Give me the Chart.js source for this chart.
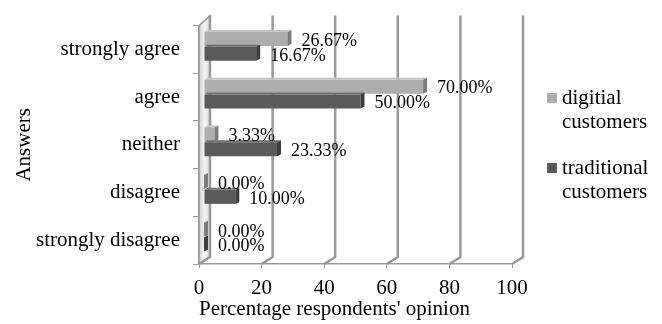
<!DOCTYPE html>
<html>
<head>
<meta charset="utf-8">
<script src="https://cdn.jsdelivr.net/npm/chart.js@4"></script>
<style>
  html, body { margin: 0; padding: 0; background: #fff; }
  #wrap { width: 662px; height: 324px; }
</style>
</head>
<body>
<div id="wrap"><canvas id="answers_chart"></canvas></div>
<script>
const answers = ["strongly agree", "agree", "neither", "disagree", "strongly disagree"];
const digitalCustomers = [26.67, 70.0, 3.33, 0.0, 0.0];
const traditionalCustomers = [16.67, 50.0, 23.33, 10.0, 0.0];
const percentTicks = [0, 20, 40, 60, 80, 100];

const serif = "'Liberation Serif', 'Times New Roman', serif";
const gridColor = "#999999";
// 3d look: back wall sits up and to the right of the front axis, bars half way in
const depth = { x: 11, top: -10, bottom: -7 };
const barShift = { x: 5, y: -3 };

function shade(ctx, pts, fill) {
  ctx.beginPath();
  ctx.moveTo(pts[0][0], pts[0][1]);
  pts.slice(1).forEach((p) => ctx.lineTo(p[0], p[1]));
  ctx.closePath();
  ctx.fillStyle = fill;
  ctx.fill();
}

const wallAndGrid = {
  id: "wallAndGrid",
  beforeDatasetsDraw(chart) {
    const { ctx, chartArea: a, scales: { x } } = chart;
    ctx.save();
    // left side wall
    const g = ctx.createLinearGradient(a.left, 0, a.left + depth.x, 0);
    g.addColorStop(0, "#cfcfcf");
    g.addColorStop(0.5, "#f4f4f4");
    g.addColorStop(1, "#dadada");
    shade(ctx, [
      [a.left, a.top],
      [a.left + depth.x, a.top + depth.top],
      [a.left + depth.x, a.bottom + depth.bottom],
      [a.left, a.bottom],
    ], g);
    ctx.strokeStyle = gridColor;
    ctx.lineWidth = 1.5;
    ctx.stroke();
    // back gridlines with their floor edge
    ctx.lineWidth = 2.5;
    percentTicks.forEach((v) => {
      const px = x.getPixelForValue(v);
      ctx.beginPath();
      ctx.moveTo(px, a.bottom);
      ctx.lineTo(px + depth.x, a.bottom + depth.bottom);
      ctx.lineTo(px + depth.x, a.top + depth.top);
      ctx.stroke();
    });
    ctx.restore();
    ctx.save();
    ctx.translate(barShift.x, barShift.y);
  },
  afterDatasetsDraw(chart) {
    const { ctx } = chart;
    const caps = ["#7c7c7c", "#3c3c3c"];
    const tops = ["#c4c4c4", "#6e6e6e"];
    chart.data.datasets.forEach((ds, i) => {
      chart.getDatasetMeta(i).data.forEach((bar) => {
        const { x, y, base, height } = bar.getProps(["x", "y", "base", "height"], true);
        const t = y - height / 2, b = y + height / 2;
        shade(ctx, [[base, t], [base + 3, t - 2], [x + 4, t - 2], [x, t]], tops[i]);
        shade(ctx, [[x, t], [x + 4, t - 2], [x + 4, b - 2], [x, b]], caps[i]);
      });
    });
    ctx.restore();

    // value labels
    ctx.save();
    ctx.font = "18px " + serif;
    ctx.fillStyle = "#000";
    ctx.textAlign = "left";
    ctx.textBaseline = "middle";
    chart.data.datasets.forEach((ds, i) => {
      chart.getDatasetMeta(i).data.forEach((bar, j) => {
        const { x, y } = bar.getProps(["x", "y"], true);
        ctx.fillText(ds.data[j].toFixed(2) + "%", x + barShift.x + 14, y + barShift.y + 2);
      });
    });
    ctx.restore();
  },
  afterDraw(chart) {
    // legend, two lines per entry
    const { ctx } = chart;
    ctx.save();
    ctx.font = "21px " + serif;
    ctx.textAlign = "left";
    ctx.textBaseline = "middle";
    chart.data.datasets.forEach((ds, i) => {
      const y0 = 98 + i * 70;
      ctx.fillStyle = ds.backgroundColor;
      ctx.fillRect(547, y0 - 5, 10, 10);
      ctx.fillStyle = "#000";
      const words = ds.label.split(" ");
      ctx.fillText(words[0], 562, y0);
      ctx.fillText(words.slice(1).join(" "), 562, y0 + 24);
    });
    ctx.restore();
  },
};

const config = {
  type: "bar",
  data: {
    labels: answers,
    datasets: [
      {
        label: "digitial customers",
        data: digitalCustomers,
        backgroundColor: "#adadad",
        categoryPercentage: 0.62,
        barPercentage: 0.95,
        clip: false,
      },
      {
        label: "traditional customers",
        data: traditionalCustomers,
        backgroundColor: "#5a5a5a",
        categoryPercentage: 0.62,
        barPercentage: 0.95,
        clip: false,
      },
    ],
  },
  options: {
    indexAxis: "y",
    responsive: false,
    animation: false,
    layout: { padding: { top: 20, right: 150, left: 0, bottom: 0 } },
    plugins: {
      legend: { display: false },
      tooltip: { enabled: false },
    },
    scales: {
      x: {
        min: 0,
        max: 100,
        afterFit: (s) => { s.height = 60; },
        ticks: {
          stepSize: 20,
          color: "#000",
          padding: 8,
          font: { family: serif, size: 21 },
        },
        grid: { drawOnChartArea: false, tickLength: 4, color: gridColor },
        border: { color: gridColor, width: 1.5 },
        title: {
          display: true,
          text: "Percentage respondents' opinion",
          align: "start",
          color: "#000",
          padding: { top: 0, bottom: 2 },
          font: { family: serif, size: 21 },
        },
      },
      y: {
        afterFit: (s) => { s.width = 199; },
        ticks: {
          color: "#000",
          padding: 13,
          font: { family: serif, size: 21 },
        },
        grid: { drawOnChartArea: false, tickLength: 6, color: gridColor },
        border: { color: gridColor, width: 1.5 },
        title: {
          display: true,
          text: "Answers",
          color: "#000",
          padding: { top: 12, bottom: 0 },
          font: { family: serif, size: 21 },
        },
      },
    },
  },
  plugins: [wallAndGrid],
};

const canvas = document.getElementById("answers_chart");
canvas.width = 662;
canvas.height = 324;
new Chart(canvas, config);
</script>
</body>
</html>
